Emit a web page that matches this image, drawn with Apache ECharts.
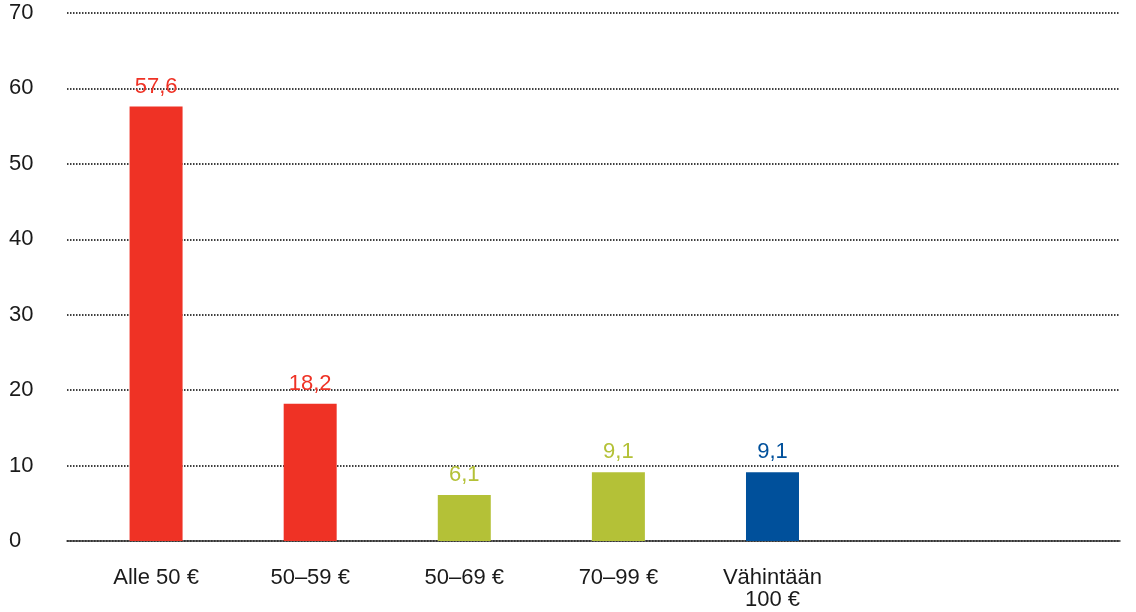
<!DOCTYPE html>
<html>
<head>
<meta charset="utf-8">
<script src="https://cdn.jsdelivr.net/npm/echarts@6/dist/echarts.min.js"></script>
<style>
html,body{margin:0;padding:0;background:#fff;}
#chart{width:1136px;height:612px;}
</style>
</head>
<body>
<div id="chart"></div>
<script>
const categories = ['Alle 50 €', '50–59 €', '50–69 €', '70–99 €', 'Vähintään\n100 €'];
const values = [57.6, 18.2, 6.1, 9.1, 9.1];
const barColors = ['#ef3225', '#ef3225', '#b4c137', '#b4c137', '#00509b'];
const yTicks = [0, 10, 20, 30, 40, 50, 60, 70];

const FONT = '"Liberation Sans", Arial, sans-serif';
const chart = echarts.init(document.getElementById('chart'));

chart.setOption({
  animation: false,
  backgroundColor: '#fff',
  grid: { left: 67, right: 16, top: 13, bottom: 71, containLabel: false },
  xAxis: {
    type: 'value',
    min: -0.578,
    max: 6.255,
    splitLine: { show: false },
    axisTick: { show: false },
    axisLine: { show: true, lineStyle: { color: '#333', width: 1.5 } },
    axisLabel: {
      customValues: categories.map((c, i) => i),
      formatter: v => categories[Math.round(v)] || '',
      color: '#1a1a1a',
      fontFamily: FONT,
      fontSize: 22,
      lineHeight: 22,
      margin: 26,
      hideOverlap: false
    }
  },
  yAxis: {
    type: 'value',
    min: yTicks[0],
    max: yTicks[yTicks.length - 1],
    interval: 10,
    axisLine: { show: false },
    axisTick: { show: false },
    axisLabel: {
      color: '#1a1a1a',
      fontFamily: FONT,
      fontSize: 22,
      align: 'left',
      margin: 58
    },
    splitLine: {
      show: true,
      lineStyle: { color: '#000', width: 1.5, type: [1.5, 1.5] }
    }
  },
  series: [{
    type: 'bar',
    barWidth: 53,
    data: values.map((v, i) => ({
      value: [i, v],
      itemStyle: { color: barColors[i] },
      label: { color: barColors[i] }
    })),
    label: {
      show: true,
      position: 'top',
      distance: 9,
      fontFamily: FONT,
      fontSize: 22,
      formatter: p => String(p.value[1]).replace('.', ',')
    }
  }]
});
</script>
</body>
</html>
